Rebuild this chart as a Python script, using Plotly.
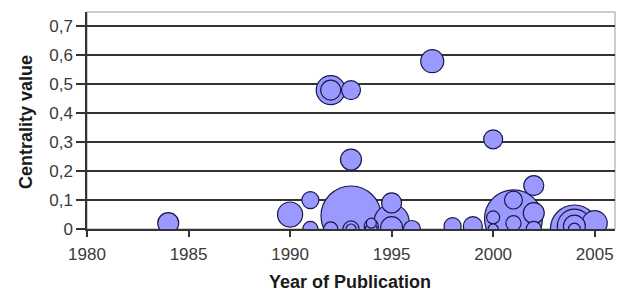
import plotly.graph_objects as go

# Year of publication, centrality value, bubble size (relative weight)
years = [1984, 1990, 1991, 1991, 1992, 1992, 1992, 1993, 1993, 1993, 1993, 1993,
         1994, 1994, 1994, 1995, 1995, 1995, 1996, 1997, 1998, 1999,
         2000, 2000, 2000, 2001, 2001, 2001, 2002, 2002, 2002,
         2004, 2004, 2004, 2004, 2005]
centrality = [0.02, 0.05, 0.10, 0.00, 0.48, 0.48, 0.00, 0.48, 0.24, 0.045, 0.00, 0.00,
              0.01, 0.02, 0.00, 0.09, 0.025, 0.005, 0.00, 0.58, 0.01, 0.01,
              0.31, 0.04, 0.00, 0.035, 0.10, 0.02, 0.15, 0.055, 0.00,
              0.00, 0.01, 0.01, 0.00, 0.02]
bubble_size = [4.4, 6.3, 2.9, 2.3, 8.4, 4.0, 2.0, 3.6, 4.4, 36.0, 2.6, 1.0,
               2.0, 1.0, 1.4, 4.0, 12.3, 4.8, 2.9, 5.3, 2.9, 3.6,
               3.6, 1.7, 1.0, 33.6, 3.2, 2.3, 4.0, 4.4, 2.3,
               23.0, 11.6, 4.8, 1.4, 6.3]

y_tickvals = [0, 0.1, 0.2, 0.3, 0.4, 0.5, 0.6, 0.7]
y_ticktext = ["0", "0,1", "0,2", "0,3", "0,4", "0,5", "0,6", "0,7"]
x_tickvals = [1980, 1985, 1990, 1995, 2000, 2005]

# draw larger bubbles first so smaller ones stay visible on top
order = sorted(range(len(years)), key=lambda i: -bubble_size[i])
xs = [years[i] for i in order]
ys = [centrality[i] for i in order]
ss = [bubble_size[i] for i in order]

max_diam = 60
sizeref = 2.0 * max(ss) / (max_diam ** 2)

fig = go.Figure()
fig.add_trace(go.Scatter(
    x=xs, y=ys, mode="markers",
    marker=dict(size=ss, sizemode="area", sizeref=sizeref,
                color="#9999FF", opacity=1,
                line=dict(color="#1a1a4a", width=1.2)),
    cliponaxis=True, showlegend=False, hoverinfo="x+y",
))

fig.add_shape(type="rect", xref="paper", yref="paper", x0=0, y0=0, x1=1, y1=1,
              line=dict(color="#9a9a9a", width=1), layer="below")

tick_font = dict(family="Liberation Sans, Arial, sans-serif", size=17, color="#3a3a3a")
title_font = dict(family="Liberation Sans, Arial, sans-serif", size=18, color="#1a1a1a")

fig.add_annotation(text="<b>Year of Publication</b>", xref="paper", yref="paper",
                   x=0.498, y=-0.244, xanchor="center", yanchor="middle",
                   showarrow=False, font=title_font)
fig.add_annotation(text="<b>Centrality value</b>", xref="paper", yref="paper",
                   x=-0.1155, y=0.493, xanchor="center", yanchor="middle",
                   textangle=-90, showarrow=False, font=title_font)

# page body has an 8px margin, so the figure is sized/offset to fit the window
fig.update_layout(
    width=617, height=285,
    margin=dict(l=79, r=10, t=4, b=64),
    paper_bgcolor="white", plot_bgcolor="white",
    xaxis=dict(range=[1980, 2006], tickvals=x_tickvals,
               ticktext=[str(v) for v in x_tickvals],
               showgrid=False, zeroline=False, automargin=False,
               showline=True, linecolor="#333333", linewidth=1.5,
               ticks="outside", ticklen=6, tickcolor="#333333", tickwidth=1.5,
               ticklabelstandoff=3,
               tickfont=tick_font),
    yaxis=dict(range=[0, 0.75], tickvals=y_tickvals, ticktext=y_ticktext,
               showgrid=True, gridcolor="#333333", gridwidth=1.5,
               zeroline=False, automargin=False,
               showline=True, linecolor="#333333", linewidth=1.5,
               ticks="outside", ticklen=9, tickcolor="#333333", tickwidth=1.5,
               ticklabelstandoff=0,
               tickfont=tick_font),
)

fig.write_html("out.html")
